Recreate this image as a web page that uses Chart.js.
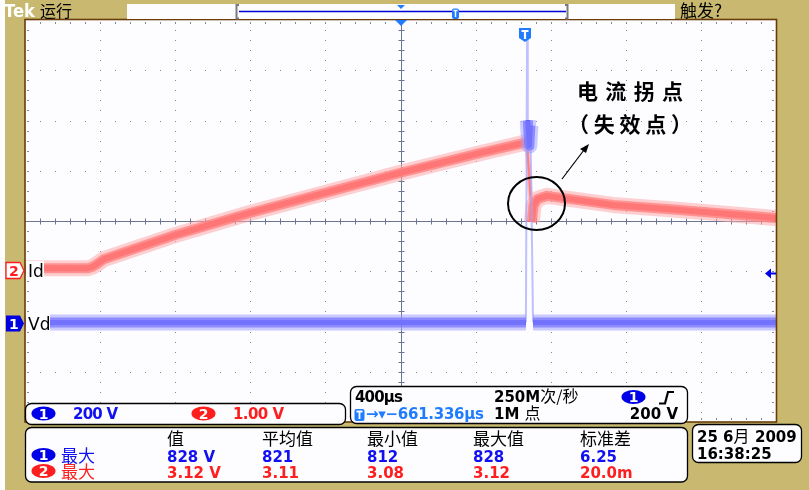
<!DOCTYPE html>
<html>
<head>
<meta charset="utf-8">
<script src="https://cdn.jsdelivr.net/npm/chart.js@4/dist/chart.umd.min.js"></script>
<style>
  body { margin: 0; background: #c9b970; width: 809px; height: 490px; overflow: hidden; position: relative; }
  #scope { position: absolute; left: 0; top: 0; }
  #overlay { position: absolute; left: 0; top: 0; pointer-events: none; }
  .dig { font-family: 'DejaVu Sans', sans-serif; font-weight: bold; font-size: 15px; }
  .cjk { font-family: 'Noto Sans CJK SC', sans-serif; font-size: 16px; }
</style>
</head>
<body>
<div style="position:absolute;left:0;top:0;width:5px;height:490px;background:#fdfcff"></div>
<canvas id="scope" width="809" height="490"></canvas>
<svg id="overlay" width="809" height="490" xmlns="http://www.w3.org/2000/svg"></svg>
<script>
// time axis in µs (400 µs/div, 10 div), vertical axis in screen divisions
const idTime  = [-2000, -1664, -1640, -1610, -1580, -1201, -802, -402, 0, 423, 652, 674, 700, 708, 730, 780, 1132, 1489, 2000];
const idValue = [-0.94, -0.94, -0.91, -0.84, -0.76, -0.28, 0.16, 0.56, 0.96, 1.35, 1.55, 1.57, -0.02, 0.30, 0.44, 0.50, 0.32, 0.22, 0.06];
const vdTime  = [-2000, 668, 674, 678, 686, 692, 706, 2000];
const vdValue = [-2.02, -2.02, 3.6, 2.0, 1.5, 1.9, -2.02, -2.02];

const measureHeaders = ["值", "平均值", "最小值", "最大值", "标准差"];
const ch1Stats = ["828 V", "821", "812", "828", "6.25"];
const ch2Stats = ["3.12 V", "3.11", "3.08", "3.12", "20.0m"];

const toPoints = (xs, ys) => xs.map((x, i) => ({ x: x, y: ys[i] }));
const steep = c => Math.abs(c.p1.parsed.y - c.p0.parsed.y) > 0.8;

const layer = (data, color, width, steepColor, steepWidth) => ({
  data: data,
  borderColor: color,
  borderWidth: width,
  pointRadius: 0,
  borderJoinStyle: "round",
  clip: 0,
  segment: {
    borderColor: c => steep(c) ? steepColor : undefined,
    borderWidth: c => steep(c) ? steepWidth : undefined
  }
});

const idPts = toPoints(idTime, idValue);
const vdPts = toPoints(vdTime, vdValue);
const NONE = "rgba(0,0,0,0)";

const graticule = {
  id: "graticule",
  beforeDatasetsDraw(chart) {
    const ctx = chart.ctx;
    const a = chart.chartArea;
    const xs = chart.scales.x, ys = chart.scales.y;
    ctx.save();
    ctx.fillStyle = "#fdfcff";
    ctx.fillRect(a.left, a.top, a.right - a.left, a.bottom - a.top);
    const dx = (a.right - a.left) / 50, dy = (a.bottom - a.top) / 40;
    ctx.fillStyle = "#7d88a4";
    for (let i = 1; i < 10; i++) {
      if (i === 5) continue;
      const x = Math.round(xs.getPixelForValue(-2000 + 400 * i));
      for (let j = 1; j < 40; j++) ctx.fillRect(x, Math.round(a.top + j * dy), 1, 1);
    }
    for (let k = 1; k < 8; k++) {
      if (k === 4) continue;
      const y = Math.round(ys.getPixelForValue(4 - k));
      for (let j = 1; j < 50; j++) ctx.fillRect(Math.round(a.left + j * dx), y, 1, 1);
    }
    // edge ticks
    for (let j = 1; j < 50; j++) {
      const x = Math.round(a.left + j * dx);
      ctx.fillRect(x, a.top + 2, 1, 2);
      ctx.fillRect(x, a.bottom - 4, 1, 2);
    }
    for (let j = 1; j < 40; j++) {
      const y = Math.round(a.top + j * dy);
      ctx.fillRect(a.left + 2, y, 2, 1);
      ctx.fillRect(a.right - 4, y, 2, 1);
    }
    // centre cross with ticks
    const cx = Math.round(xs.getPixelForValue(0)) + 0.5;
    const cy = Math.round(ys.getPixelForValue(0)) + 0.5;
    ctx.strokeStyle = "#6c7592";
    ctx.lineWidth = 1;
    ctx.beginPath();
    ctx.moveTo(a.left, cy); ctx.lineTo(a.right, cy);
    ctx.moveTo(cx, a.top); ctx.lineTo(cx, a.bottom);
    for (let j = 1; j < 50; j++) {
      const x = Math.round(a.left + j * dx) + 0.5;
      ctx.moveTo(x, cy - 3); ctx.lineTo(x, cy + 3);
    }
    for (let j = 1; j < 40; j++) {
      const y = Math.round(a.top + j * dy) + 0.5;
      ctx.moveTo(cx - 3, y); ctx.lineTo(cx + 3, y);
    }
    ctx.stroke();
    ctx.restore();
  }
};

new Chart(document.getElementById("scope"), {
  type: "line",
  data: {
    datasets: [
      layer(vdPts, "rgba(160,160,255,0.55)", 16, NONE, 1),
      layer(vdPts, "rgba(70,70,255,0.75)", 10, NONE, 1),
      layer(vdPts, "#1a1af0", 5, NONE, 1),
      layer(vdPts, "#0000c0", 2, "rgba(160,160,255,0.65)", 2),
      layer(idPts, "rgba(255,170,170,0.55)", 16, NONE, 1),
      layer(idPts, "rgba(255,70,70,0.75)", 10, "rgba(255,150,150,0.5)", 5),
      layer(idPts, "#ff1010", 6, "rgba(255,90,90,0.6)", 2.5),
      layer(idPts, "#f00000", 3, "rgba(255,60,60,0.7)", 1.5)
    ]
  },
  options: {
    responsive: false,
    animation: false,
    devicePixelRatio: 1,
    layout: { padding: { left: 25, top: 20, right: 33, bottom: 68 } },
    plugins: { legend: { display: false }, tooltip: { enabled: false } },
    scales: {
      x: { type: "linear", min: -2000, max: 2000, display: false },
      y: { min: -4, max: 4, display: false }
    }
  },
  plugins: [graticule]
});

// screen furniture
const BLUE = "#1010f0", RED = "#ff1e1e", AZURE = "#1f7cff";
const cols = [167, 262, 367, 473, 580];
let s = "";
s += '<rect x="25" y="19.5" width="751.5" height="402.5" fill="none" stroke="#6b3b0a" stroke-width="1.6"/>';
// top bar
s += '<text x="4" y="17" fill="#fff" style="font-family:\'DejaVu Sans\',sans-serif;font-weight:bold;font-size:18px" textLength="31" lengthAdjust="spacingAndGlyphs">Tek</text>';
s += '<text x="40" y="17" class="cjk" style="font-size:16px">运行</text>';
s += '<rect x="127" y="4" width="548" height="15" fill="#fdfcff"/>';
s += '<path d="M239 5 H236.5 V18.5 H239 M565 5 H567.5 V18.5 H565" stroke="#7a7a7a" stroke-width="2" fill="none"/>';
s += '<line x1="239" y1="11.5" x2="566" y2="11.5" stroke="#0000d8" stroke-width="1.6"/>';
s += '<polygon points="397,5 405,5 401,9" fill="' + AZURE + '"/>';
s += '<rect x="452" y="8.5" width="7" height="10.5" rx="2" fill="' + AZURE + '"/><path d="M453.5 10.5 H457.5 M455.5 10.5 V17" stroke="#fff" stroke-width="1.4"/>';
s += '<text x="680" y="17" class="cjk" style="font-size:17px">触发?</text>';
// trigger markers
s += '<polygon points="395,20 407,20 401,26" fill="' + AZURE + '"/>';
s += '<path d="M519 28 H531 V38 L525 42 L519 38 Z" fill="' + AZURE + '"/><path d="M521.5 31 H528.5 M525 31 V39" stroke="#fff" stroke-width="2.2"/>';
s += '<path d="M765 273.5 L771 268.5 V278.5 Z" fill="#0000e8"/><line x1="770" y1="273.5" x2="776" y2="273.5" stroke="#0000e8" stroke-width="2"/>';
// channel markers on left
s += '<path d="M6 262.5 H20 L24 270.5 L20 278.5 H6 Z" fill="#fff" stroke="' + RED + '" stroke-width="1.3"/>';
s += '<text x="9" y="276" fill="' + RED + '" class="dig" style="font-size:14px">2</text>';
s += '<rect x="26" y="261" width="18" height="18" fill="#fdfcff"/><text x="28" y="277" style="font-family:\'DejaVu Sans\';font-size:17px">Id</text>';
s += '<path d="M6 315.5 H20 L24 323.5 L20 331.5 H6 Z" fill="#0000e0"/>';
s += '<text x="9" y="329" fill="#fff" class="dig" style="font-size:14px">1</text>';
s += '<rect x="26" y="314" width="24" height="18" fill="#fdfcff"/><text x="28" y="330" style="font-family:\'DejaVu Sans\';font-size:17px">Vd</text>';
// annotation
s += '<text x="577" y="99" textLength="106" lengthAdjust="spacing" style="font-family:\'Noto Sans CJK SC\';font-weight:bold;font-size:21px">电流拐点</text>';
s += '<text x="568" y="132" textLength="124" lengthAdjust="spacing" style="font-family:\'Noto Sans CJK SC\';font-weight:bold;font-size:21px">（失效点）</text>';
s += '<ellipse cx="536.5" cy="203.5" rx="28.5" ry="26.5" fill="none" stroke="#000" stroke-width="2"/>';
s += '<line x1="562" y1="179" x2="584" y2="150" stroke="#000" stroke-width="1.2"/><polygon points="589,144 580,149 586,153" fill="#000"/>';
// channel scale box
s += '<rect x="25.5" y="403.5" width="320" height="21" rx="6" fill="#fdfcff" stroke="#000" stroke-width="1.3"/>';
const badge = (cx, cy, fill, n) =>
  '<ellipse cx="' + cx + '" cy="' + cy + '" rx="12" ry="7" fill="' + fill + '"/><text x="' + cx + '" y="' + (cy + 5) + '" text-anchor="middle" fill="#fff" class="dig" style="font-size:14px">' + n + '</text>';
s += badge(43.5, 413.5, "#0000e8", 1);
s += '<text x="73" y="419" fill="' + BLUE + '" class="dig" textLength="45">200 V</text>';
s += badge(203.5, 413.5, RED, 2);
s += '<text x="233" y="419" fill="' + RED + '" class="dig" textLength="51">1.00 V</text>';
// timebase box
s += '<rect x="350.5" y="386.5" width="337" height="37" rx="6" fill="#fdfcff" stroke="#000" stroke-width="1.3"/>';
s += '<text x="355" y="402" class="dig" textLength="48">400µs</text>';
s += '<text x="494" y="402" class="dig">250M<tspan class="cjk" style="font-weight:normal">次/秒</tspan></text>';
s += badge(633.5, 397, "#0000e8", 1);
s += '<path d="M659 403.5 H665 L668 392 H674" stroke="#000" stroke-width="2.2" fill="none"/>';
s += '<rect x="354.5" y="409" width="10" height="12" rx="2" fill="' + AZURE + '"/><path d="M356.5 411.5 H362.5 M359.5 411.5 V419" stroke="#fff" stroke-width="1.8"/>';
s += '<text x="366" y="419" fill="' + AZURE + '" class="dig" textLength="118">→▾−661.336µs</text>';
s += '<text x="494" y="419" class="dig">1M <tspan class="cjk" style="font-weight:normal">点</tspan></text>';
s += '<text x="678" y="419" text-anchor="end" class="dig">200 V</text>';
// measurement box
s += '<rect x="25.5" y="427.5" width="662" height="54.5" rx="6" fill="#fdfcff" stroke="#000" stroke-width="1.3"/>';
measureHeaders.forEach((h, i) => { s += '<text x="' + cols[i] + '" y="445" class="cjk" style="font-size:17px">' + h + '</text>'; });
s += badge(43.5, 455, "#0000e8", 1);
s += '<text x="61" y="462" fill="' + BLUE + '" class="cjk" style="font-size:17px">最大</text>';
ch1Stats.forEach((v, i) => { s += '<text x="' + cols[i] + '" y="462" fill="' + BLUE + '" class="dig">' + v + '</text>'; });
s += badge(43.5, 471, RED, 2);
s += '<text x="61" y="478" fill="' + RED + '" class="cjk" style="font-size:17px">最大</text>';
ch2Stats.forEach((v, i) => { s += '<text x="' + cols[i] + '" y="478" fill="' + RED + '" class="dig">' + v + '</text>'; });
// date box
s += '<rect x="692.5" y="424.5" width="109" height="38" rx="6" fill="#fdfcff" stroke="#000" stroke-width="1.3"/>';
s += '<text x="697" y="442" class="dig">25 6<tspan class="cjk" style="font-weight:normal">月</tspan><tspan x="755">2009</tspan></text>';
s += '<text x="697" y="459" class="dig">16:38:25</text>';
document.getElementById("overlay").innerHTML = s;
</script>
</body>
</html>
